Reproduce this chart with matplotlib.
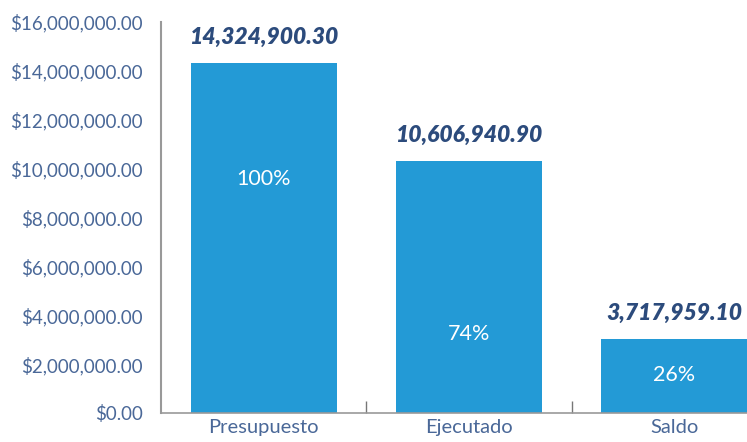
import numpy as np
import matplotlib.pyplot as plt
from matplotlib.ticker import FuncFormatter

# data
categorias = ["Presupuesto", "Ejecutado", "Saldo"]
alturas = [14324900.30, 10320000.0, 3030000.0]
etiquetas = ["14,324,900.30", "10,606,940.90", "3,717,959.10"]
porcentajes = ["100%", "74%", "26%"]
yticks = np.arange(0, 16000001, 2000000)

# where the percentages sit inside the bars
pos_pct = [9570000, 3230000, 1550000]

azul = "#239ad6"
texto = "#4a6898"
oscuro = "#2c4b7c"

fig = plt.figure(figsize=(7.47, 4.42), dpi=100)
ax = fig.add_axes([161/747, 29/442, 616/747, 391/442])

x = np.arange(len(categorias))
ax.bar(x, alturas, width=0.71, color=azul, zorder=2)

for i in range(len(categorias)):
    ax.annotate(etiquetas[i], (x[i], alturas[i]), xytext=(0, 18.5),
                textcoords="offset points", ha="center", va="center",
                fontsize=16.5, fontweight="heavy", fontstyle="italic",
                color=oscuro, family="Lato")
    ax.text(x[i], pos_pct[i], porcentajes[i], ha="center", va="center",
            fontsize=15.5, color="white", family="Lato", fontweight="normal")

ax.set_xlim(-0.5, 2.5)
ax.set_ylim(0, 16000000)
ax.set_yticks(yticks)
ax.yaxis.set_major_formatter(FuncFormatter(lambda v, p: "${:,.2f}".format(v)))
ax.set_xticks(x)
ax.set_xticklabels(categorias)
ax.set_xticks([0.5, 1.5], minor=True)

for s in ["top", "right"]:
    ax.spines[s].set_visible(False)
ax.spines["left"].set_color("#999999")
ax.spines["left"].set_linewidth(1.5)
ax.spines["bottom"].set_color("#999999")
ax.spines["bottom"].set_linewidth(1.2)

ax.tick_params(axis="y", length=0, pad=13, labelsize=13.5, labelcolor=texto)
ax.tick_params(axis="x", which="major", length=0, pad=4, labelsize=14.5, labelcolor=texto)
ax.tick_params(axis="x", which="minor", length=9, direction="in", color="#777777", width=1)
for lb in ax.get_yticklabels() + ax.get_xticklabels():
    lb.set_family("Lato")

fig.savefig("out.png", dpi=100)
